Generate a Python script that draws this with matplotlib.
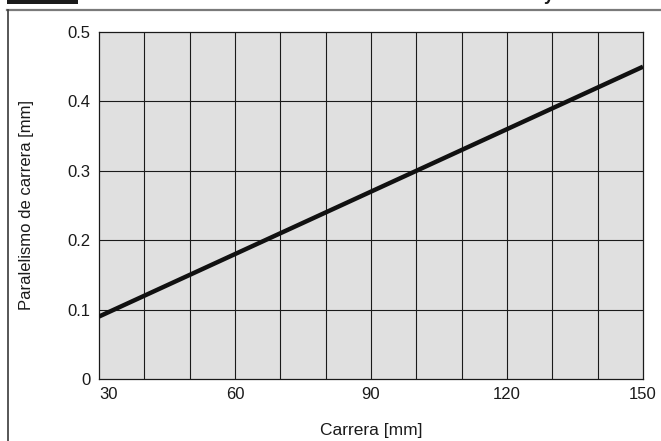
import matplotlib.pyplot as plt
from matplotlib.lines import Line2D
from matplotlib.patches import Rectangle

plt.rcParams['font.family'] = ['Liberation Sans', 'DejaVu Sans']

# data
stroke = [30, 60, 90, 120, 150]
parallelism = [0.09, 0.18, 0.27, 0.36, 0.45]
x_ticks = [30, 60, 90, 120, 150]
y_ticks = [0, 0.1, 0.2, 0.3, 0.4, 0.5]
y_tick_labels = ['0', '0.1', '0.2', '0.3', '0.4', '0.5']

W, H = 661, 441
fig = plt.figure(figsize=(W / 100, H / 100), dpi=100)
ax = fig.add_axes([99 / W, 1 - 379 / H, (643 - 99) / W, (379 - 32) / H])

ax.set_facecolor('#e0e0e0')
ax.set_xlim(30, 150)
ax.set_ylim(0, 0.5)

# grid every 10 mm and every 0.1 mm
for gx in range(40, 150, 10):
    ax.axvline(gx, color='#1a1a1a', lw=0.8, zorder=1)
for gy in y_ticks[1:-1]:
    ax.axhline(gy, color='#1a1a1a', lw=0.8, zorder=1)

ax.plot(stroke, parallelism, color='#111111', lw=3.2, solid_capstyle='butt', zorder=3)

for s in ax.spines.values():
    s.set_color('#1a1a1a')
    s.set_linewidth(0.9)

ax.set_xticks(x_ticks)
ax.set_xticklabels([str(t) for t in x_ticks])
ax.set_yticks(y_ticks)
ax.set_yticklabels(y_tick_labels)
ax.tick_params(length=0, labelsize=12, colors='#1a1a1a', pad=6)
ax.get_xticklabels()[0].set_horizontalalignment('left')

ax.set_xlabel('Carrera [mm]', fontsize=12.5, color='#1a1a1a', labelpad=15)
ax.set_ylabel('Paralelismo de carrera [mm]', fontsize=12, color='#1a1a1a', labelpad=24)

# page frame and header pieces
fig.add_artist(Line2D([7 / W, 1], [1 - 9.5 / H, 1 - 9.5 / H], color='#7a7a7a', lw=1.6))
fig.add_artist(Line2D([8 / W, 8 / W], [0, 1 - 9.5 / H], color='#3a3a3a', lw=1.2))
fig.add_artist(Rectangle((7 / W, 1 - 3.5 / H), 71 / W, 4 / H, color='#1a1a1a', lw=0))
fig.text(549 / W, 1 + 0.5 / H, 'y', fontsize=13, fontweight='bold', color='#1a1a1a',
         ha='center', va='baseline')

fig.savefig('out.png', dpi=100)
